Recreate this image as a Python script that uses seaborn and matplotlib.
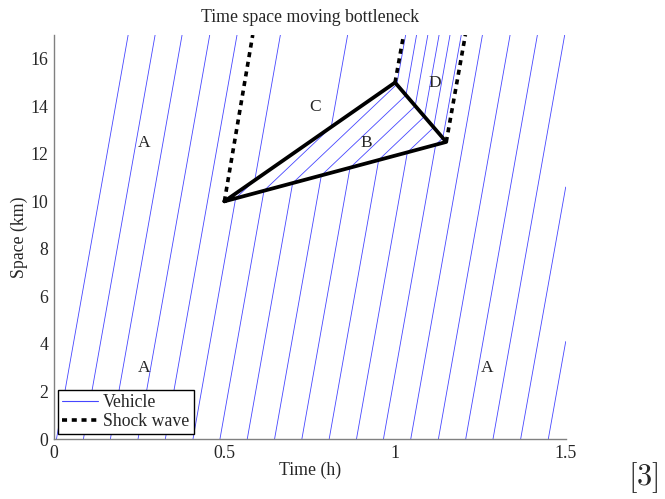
import matplotlib
matplotlib.use("Agg")
import matplotlib.pyplot as plt
from matplotlib.lines import Line2D
import pandas as pd
import seaborn as sns

# vehicle trajectories (time in h, space in km)
veh_time = [
    [0.008, 0.218],
    [0.087, 0.297],
    [0.166, 0.376],
    [0.247, 0.457],
    [0.327, 0.537],
    [0.408, 0.533, 0.589, 0.664],
    [0.487, 0.616, 0.813, 0.861],
    [0.567, 0.700, 1.005, 1.031],
    [0.647, 0.784, 1.032, 1.063],
    [0.727, 0.868, 1.059, 1.096],
    [0.807, 0.952, 1.086, 1.129],
    [0.887, 1.036, 1.113, 1.161],
    [0.966, 1.119, 1.140, 1.194],
    [1.046, 1.256],
    [1.127, 1.337],
    [1.207, 1.417],
    [1.287, 1.497],
    [1.368, 1.500],
    [1.449, 1.500],
]
veh_space = [
    [0, 17], [0, 17], [0, 17], [0, 17], [0, 17],
    [0, 10.13, 10.89, 17],
    [0, 10.45, 13.13, 17],
    [0, 10.77, 14.92, 17],
    [0, 11.09, 14.47, 17],
    [0, 11.41, 14.01, 17],
    [0, 11.74, 13.57, 17],
    [0, 12.06, 13.11, 17],
    [0, 12.38, 12.67, 17],
    [0, 17], [0, 17], [0, 17], [0, 17],
    [0, 10.6],
    [0, 4.1],
]

# shock waves
shock_time = [[0.5, 0.583], [1.0, 1.025], [1.15, 1.206]]
shock_space = [[10, 17], [15, 17], [12.5, 17]]

# moving bottleneck triangle
tri_time = [0.5, 1.0, 1.15, 0.5]
tri_space = [10, 15, 12.5, 10]

# region labels
region_names = ["A", "A", "A", "C", "B", "D"]
region_time = [0.265, 0.265, 1.27, 0.766, 0.915, 1.117]
region_space = [12.45, 3.0, 3.0, 13.98, 12.45, 15.0]

rows = []
for i, (ts, ss) in enumerate(zip(veh_time, veh_space)):
    for t, s in zip(ts, ss):
        rows.append({"vehicle": i, "time": t, "space": s})
veh_df = pd.DataFrame(rows)

rows = []
for i, (ts, ss) in enumerate(zip(shock_time, shock_space)):
    for t, s in zip(ts, ss):
        rows.append({"shock": i, "time": t, "space": s})
shock_df = pd.DataFrame(rows)

sns.set_style("white")
plt.rcParams["font.family"] = ["Liberation Serif", "DejaVu Serif"]
plt.rcParams["mathtext.fontset"] = "cm"

fig = plt.figure(figsize=(6.65, 4.99), dpi=100)
ax = fig.add_axes([0.0808, 0.1202, 0.7699, 0.8097])

blue = "#4646ff"
dash = (0, (1.4, 1.3))
sns.lineplot(data=veh_df, x="time", y="space", units="vehicle", estimator=None,
             sort=False, color=blue, lw=0.6, ax=ax, legend=False)
sns.lineplot(data=shock_df, x="time", y="space", units="shock", estimator=None,
             sort=False, color="black", lw=2.6, linestyle=dash,
             ax=ax, legend=False)
sns.lineplot(x=tri_time, y=tri_space, sort=False, estimator=None, color="black",
             lw=2.7, ax=ax, legend=False)

for name, t, s in zip(region_names, region_time, region_space):
    ax.text(t, s, name, ha="center", va="center", fontsize=12.5)

ax.set_xlim(0, 1.5)
ax.set_ylim(0, 17)
ax.set_xticks([0, 0.5, 1, 1.5])
ax.set_xticklabels(["0", "0.5", "1", "1.5"])
ax.set_yticks(range(0, 17, 2))
ax.tick_params(direction="in", length=4, width=0.8, color="#808080",
               labelsize=12.8, pad=4)
for side in ["top", "right"]:
    ax.spines[side].set_visible(False)
for side in ["left", "bottom"]:
    ax.spines[side].set_color("#808080")
    ax.spines[side].set_linewidth(1.0)

ax.set_title("Time space moving bottleneck", fontsize=12.8, pad=9)
ax.set_xlabel("Time (h)", fontsize=12.8, labelpad=0)
ax.set_ylabel("Space (km)", fontsize=12.8, labelpad=2)

handles = [
    Line2D([], [], color=blue, lw=0.8),
    Line2D([], [], color="black", lw=2.6, linestyle=dash),
]
leg = ax.legend(handles, ["Vehicle", "Shock wave"], loc="lower left",
                bbox_to_anchor=(0.008, 0.012), borderaxespad=0, fontsize=12.8,
                frameon=True, fancybox=False, framealpha=1, edgecolor="black",
                handlelength=2.0, handletextpad=0.3, borderpad=0.25,
                labelspacing=0.1)
leg.get_frame().set_linewidth(1.0)

fig.text(0.967, 1 - 478 / 499, r"$[3]$", fontsize=22, ha="center", va="center")

fig.savefig("out.png", dpi=100)
